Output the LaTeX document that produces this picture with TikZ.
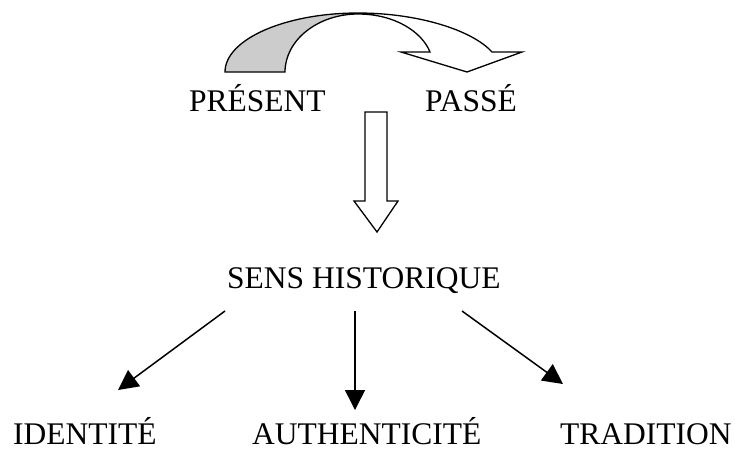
\documentclass[tikz,border=0pt]{standalone}
\usepackage{fontspec}
\setmainfont{Liberation Serif}
\usetikzlibrary{arrows.meta}
\begin{document}
\begin{tikzpicture}[x=1pt,y=-1pt,
  label/.style={inner sep=0pt,anchor=base west,text depth=0pt,font=\fontsize{31.5}{36}\selectfont},
  outline/.style={draw=black,line width=1.3pt,line join=miter},
  link/.style={draw=black,line width=1.5pt,-{Triangle[length=20pt,width=20pt]}}]
\useasboundingbox (0,0) rectangle (735,451);

% labels
\node[label] (pres) at (189,111) {PRÉSENT};
\node[label] (pass) at (425,111) {PASSÉ};
\node[label] (sens) at (227,288) {SENS HISTORIQUE};
\node[label] (iden) at (13,444) {IDENTITÉ};
\node[label] (auth) at (252,444) {AUTHENTICITÉ};
\node[label] (trad) at (560,444) {TRADITION};

% curved arrow from present to past: shaded back part
\fill[gray!40] (225,72) .. controls (225,39.4) and (285,13) .. (358,13)
  -- (358,14) .. controls (318,14) and (285,40) .. (285,72) -- cycle;
% curved arrow outline
\draw[outline] (225,72) .. controls (225,39.4) and (285,13) .. (358,13)
  .. controls (418,13) and (472,30) .. (492,52)
  -- (522,52) -- (467,72) -- (401,52) -- (430,52)
  .. controls (422,32) and (395,14) .. (358,14)
  .. controls (318,14) and (285,40) .. (285,72) -- cycle;

% hollow block arrow down to the central notion
\draw[outline,fill=white] (365,112) -- (387,112) -- (387,201) -- (398,201)
  -- (377,232) -- (354,201) -- (365,201) -- cycle;

% connectors from the central notion
\coordinate (sl) at (225,311);
\coordinate (sm) at (355,311);
\coordinate (sr) at (462,311);
\coordinate (tl) at (118,390);
\coordinate (tm) at (355,410);
\coordinate (tr) at (563,384);
\draw[link] (sl) -- (tl);
\draw[link] (sm) -- (tm);
\draw[link] (sr) -- (tr);
\end{tikzpicture}
\end{document}
